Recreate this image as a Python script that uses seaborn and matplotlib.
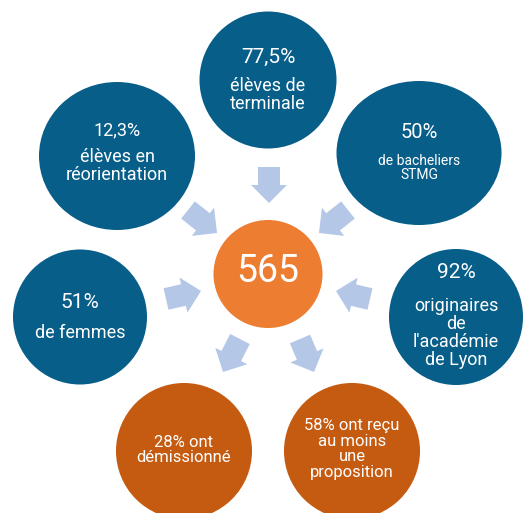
import matplotlib.pyplot as plt
from matplotlib.patches import Ellipse, FancyArrow
import seaborn as sns

sns.set_theme(style="white")
plt.rcParams['font.family'] = ['Roboto', 'DejaVu Sans']

# Data
total = "565"
blue_values = ["77,5%", "12,3%", "50%", "51%", "92%"]
blue_labels = ["élèves de\nterminale", "élèves en\nréorientation", "de bacheliers\nSTMG",
               "de femmes", "originaires\nde\nl'académie\nde Lyon"]
orange_labels = ["28% ont\ndémissionné", "58% ont reçu\nau moins\nune\nproposition"]

# Layout (pixel coords)
blue_pos = [(268, 80, 137, 137), (117, 156, 156, 148), (419, 153, 165, 144),
            (80, 317, 134, 135), (456, 317, 134, 136)]
blue_val_y = [57, 130, 133, 303, 273]
blue_lab_y = [95, 166, 168, 333, 333]
blue_val_fs = [15, 13, 14.5, 15, 15]
blue_lab_fs = [13, 13, 10, 13, 13]
orange_pos = [(184, 451, 136, 136), (352, 451, 136, 136)]
orange_txt_y = [450, 449]
center_pos = (268, 274, 109, 108)
arrows = [((269, 167), (269, 203)), ((188, 210), (217, 233)), ((348, 210), (319, 233)),
          ((166, 299), (201, 291)), ((370, 299), (336, 291)),
          ((240, 339), (223, 372)), ((300, 339), (314, 372))]

BLUE = "#075E89"
ORANGE = "#ED7D31"
DARK_ORANGE = "#C55A11"
ARROW = "#B4C7E7"

fig = plt.figure(figsize=(5.26, 5.13), dpi=100)
ax = fig.add_axes([0, 0, 1, 1])
ax.set_xlim(0, 526)
ax.set_ylim(513, 0)
ax.set_axis_off()

for (x0, y0), (x1, y1) in arrows:
    ax.add_patch(FancyArrow(x0, y0, x1 - x0, y1 - y0, width=22, head_width=36,
                            head_length=18, length_includes_head=True,
                            color=ARROW, lw=0))

for (x, y, w, h), v, lab, vy, ly, vfs, lfs in zip(blue_pos, blue_values, blue_labels,
                                                  blue_val_y, blue_lab_y, blue_val_fs, blue_lab_fs):
    ax.add_patch(Ellipse((x, y), w, h, color=BLUE, lw=0))
    ax.text(x, vy, v, color="white", fontsize=vfs, ha="center", va="center")
    ax.text(x, ly, lab, color="white", fontsize=lfs, ha="center", va="center",
            linespacing=1.0)

for (x, y, w, h), lab, ty in zip(orange_pos, orange_labels, orange_txt_y):
    ax.add_patch(Ellipse((x, y), w, h, color=DARK_ORANGE, lw=0))
    ax.text(x, ty, lab, color="white", fontsize=12, ha="center", va="center",
            linespacing=1.05)

cx, cy, cw, ch = center_pos
ax.add_patch(Ellipse((cx, cy), cw, ch, color=ORANGE, lw=0))
ax.text(cx, cy - 2, total, color="white", fontsize=27, ha="center", va="center")

fig.savefig("out.png", dpi=100)
